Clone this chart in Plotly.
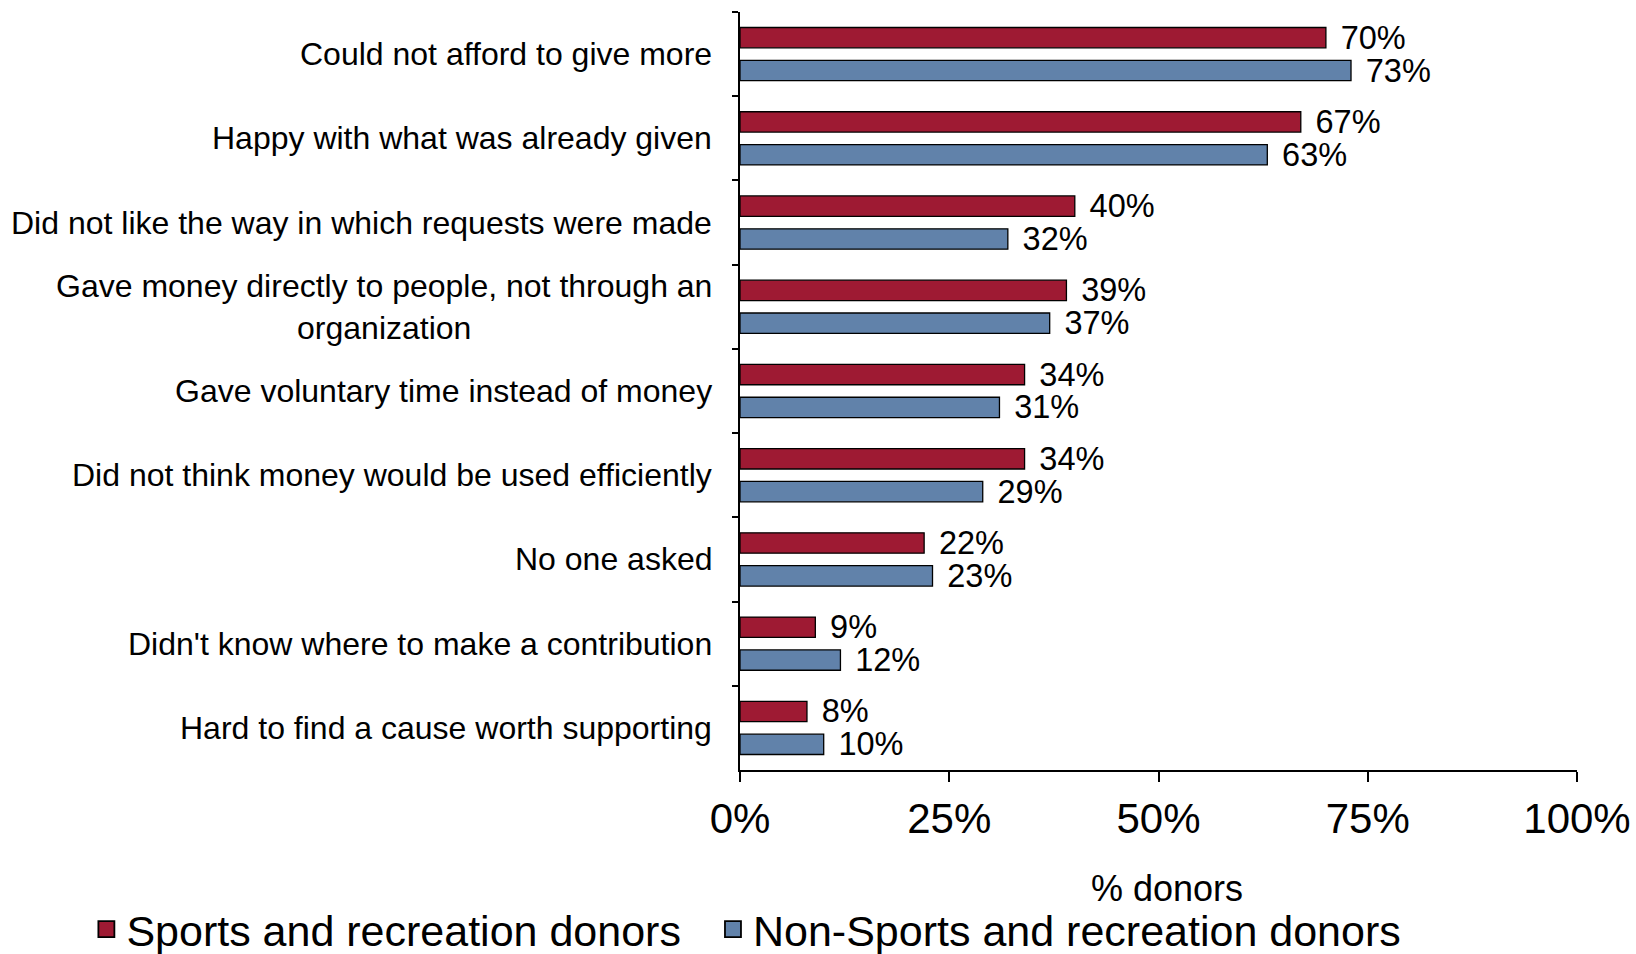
import plotly.graph_objects as go

categories = [
    "Could not afford to give more",
    "Happy with what was already given",
    "Did not like the way in which requests were made",
    "Gave money directly to people, not through an<br>organization",
    "Gave voluntary time instead of money",
    "Did not think money would be used efficiently",
    "No one asked",
    "Didn't know where to make a contribution",
    "Hard to find a cause worth supporting",
]
sports_donors = [70, 67, 40, 39, 34, 34, 22, 9, 8]
non_sports_donors = [73, 63, 32, 37, 31, 29, 23, 12, 10]
series_names = ["Sports and recreation donors", "Non-Sports and recreation donors"]
x_ticks = [0, 25, 50, 75, 100]
x_title = "% donors"

RED = "#9E1A33"
BLUE = "#6182AA"
FONT = "Liberation Sans, Arial, sans-serif"

fig = go.Figure()
series = [(series_names[0], sports_donors, RED, "legend"),
          (series_names[1], non_sports_donors, BLUE, "legend2")]
for name, vals, col, leg in series:
    fig.add_trace(go.Bar(
        y=categories, x=vals, orientation="h", name=name,
        marker=dict(color=col, line=dict(color="black", width=1.3)),
        text=[f"\u00a0\u200a{v}%" for v in vals], textposition="outside",
        textfont=dict(size=32.5, color="black", family=FONT),
        constraintext="none", cliponaxis=False, showlegend=False,
    ))
    # legend entry with a square swatch
    fig.add_trace(go.Scatter(
        x=[None], y=[None], mode="markers", name=name, legend=leg,
        marker=dict(symbol="square", size=16, color=col,
                    line=dict(color="black", width=1.8)),
    ))

# category labels, each line centred
for cat in categories:
    fig.add_annotation(
        x=0, xref="paper", y=cat, yref="y", text=cat, showarrow=False,
        xanchor="right", yanchor="middle", align="center", xshift=-26,
        font=dict(size=32, color="black", family=FONT),
    )

# x-axis title below the tick labels
fig.add_annotation(
    x=0.5, xref="paper", y=0, yref="paper", text=x_title, showarrow=False,
    xanchor="center", yanchor="middle", xshift=8, yshift=-118,
    font=dict(size=36, color="black", family=FONT),
)

legend_style = dict(orientation="h", xref="container", xanchor="left",
                    y=0.026, yref="container", yanchor="middle",
                    font=dict(size=43, color="black", family=FONT),
                    itemsizing="trace", itemwidth=30, bgcolor="rgba(0,0,0,0)")

fig.update_layout(
    width=1636, height=954,
    margin=dict(l=740, r=59, t=12, b=184, autoexpand=False),
    paper_bgcolor="white", plot_bgcolor="white",
    barmode="group", bargap=0.22, bargroupgap=0.38,
    font=dict(family=FONT, color="black"),
    legend=dict(x=0.0528, **legend_style),
    legend2=dict(x=0.4358, **legend_style),
)
fig.update_xaxes(
    range=[0, 100], tickvals=x_ticks, ticktext=[f"{t}%" for t in x_ticks],
    showline=True, linecolor="black", linewidth=1.5,
    ticks="outside", ticklen=10, tickwidth=1.5, tickcolor="black",
    tickfont=dict(size=42, color="black", family=FONT),
    ticklabelstandoff=1,
    showgrid=False, zeroline=False,
)
fig.update_yaxes(
    autorange="reversed", showticklabels=False,
    showline=True, linecolor="black", linewidth=1.5,
    ticks="outside", ticklen=6, tickwidth=1.5, tickcolor="black",
    tickson="boundaries", showgrid=False, zeroline=False,
)

fig.write_html("out.html")
